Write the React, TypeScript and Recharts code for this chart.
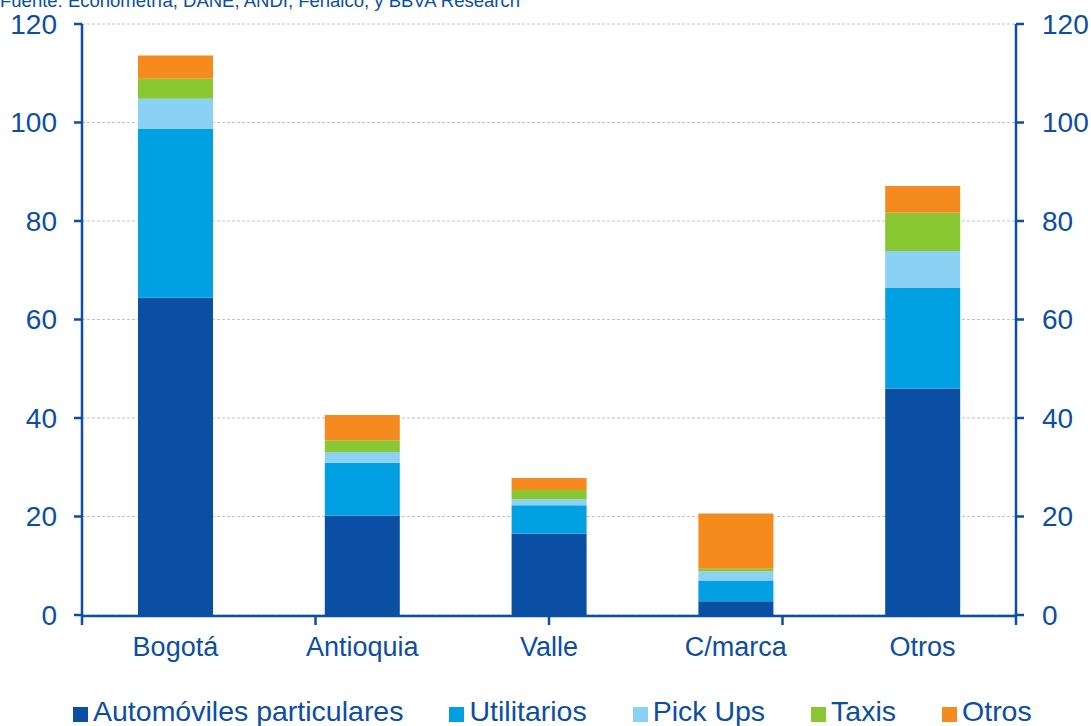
import React from "react";
import {
  BarChart,
  Bar,
  XAxis,
  YAxis,
  CartesianGrid,
  Legend,
} from "recharts";

const categories = ["Bogotá", "Antioquia", "Valle", "C/marca", "Otros"];
const automoviles = [64.4, 20.2, 16.5, 2.8, 46.0];
const utilitarios = [34.3, 10.7, 5.8, 4.2, 20.4];
const pickUps = [6.1, 2.2, 1.2, 1.9, 7.5];
const taxis = [4.1, 2.4, 1.9, 0.5, 7.8];
const otros = [4.7, 5.1, 2.4, 11.2, 5.4];
const yTicks = [0, 20, 40, 60, 80, 100, 120];
const boundaryTicks = [0, 1, 2, 3, 4, 5];

const BLUE = "#0B4EA2";
const FONT = "'Liberation Sans', Arial, sans-serif";

const series = [
  { key: "automoviles", name: "Automóviles particulares", color: "#0A4FA3" },
  { key: "utilitarios", name: "Utilitarios", color: "#00A0E3" },
  { key: "pickUps", name: "Pick Ups", color: "#8AD1F3" },
  { key: "taxis", name: "Taxis", color: "#89C733" },
  { key: "otros", name: "Otros", color: "#F58A1F" },
];

const data = categories.map((c, i) => ({
  category: c,
  automoviles: automoviles[i],
  utilitarios: utilitarios[i],
  pickUps: pickUps[i],
  taxis: taxis[i],
  otros: otros[i],
}));

function LegendContent() {
  return (
    <div
      style={{
        display: "flex",
        paddingLeft: 73,
        fontFamily: FONT,
        fontSize: 28.5,
        lineHeight: "32px",
        color: BLUE,
        whiteSpace: "nowrap",
      }}
    >
      {series.map((s) => (
        <div
          key={s.key}
          style={{ display: "flex", alignItems: "center", marginRight: 46 }}
        >
          <span
            style={{
              display: "inline-block",
              width: 15,
              height: 15,
              background: s.color,
              marginRight: 5,
              marginTop: 6,
            }}
          />
          <span>{s.name}</span>
        </div>
      ))}
    </div>
  );
}

export default function App() {
  const tickStyle = { fontSize: 28, fill: BLUE, fontFamily: FONT };
  return (
    <div
      style={{
        position: "absolute",
        left: 0,
        top: 0,
        width: 1091,
        height: 726,
        overflow: "hidden",
        background: "#fff",
      }}
    >
      <div
        style={{
          position: "absolute",
          left: 0,
          top: -10,
          fontFamily: FONT,
          fontSize: 18.5,
          color: BLUE,
          whiteSpace: "nowrap",
        }}
      >
        Fuente: Econometría, DANE, ANDI, Fenalco, y BBVA Research
      </div>
      <BarChart
        width={1091}
        height={726}
        data={data}
        margin={{ top: 24, right: 0, left: 0, bottom: 52 }}
        barSize={75}
      >
        <CartesianGrid
          xAxisId="cat"
          vertical={false}
          stroke="#C4C4C4"
          strokeDasharray="3 2"
        />
        <XAxis
          xAxisId="bounds"
          type="number"
          domain={[0, 5]}
          ticks={boundaryTicks}
          allowDataOverflow
          height={1}
          axisLine={false}
          tickFormatter={() => ""}
          tickSize={10}
          tickLine={{ stroke: BLUE, strokeWidth: 2.5 }}
        />
        <XAxis
          xAxisId="cat"
          dataKey="category"
          height={58}
          tickLine={false}
          tickSize={0}
          tickMargin={21}
          axisLine={{ stroke: BLUE, strokeWidth: 2.5 }}
          tick={{ fontSize: 27, fill: BLUE, fontFamily: FONT }}
        />
        <YAxis
          width={82}
          domain={[0, 120]}
          ticks={yTicks}
          allowDataOverflow
          tickSize={8}
          tickMargin={17}
          axisLine={{ stroke: BLUE, strokeWidth: 2.5 }}
          tickLine={{ stroke: BLUE, strokeWidth: 2.5 }}
          tick={tickStyle}
        />
        <YAxis
          yAxisId="right"
          orientation="right"
          width={75}
          domain={[0, 120]}
          ticks={yTicks}
          allowDataOverflow
          tickSize={8}
          tickMargin={18}
          axisLine={{ stroke: BLUE, strokeWidth: 2.5 }}
          tickLine={{ stroke: BLUE, strokeWidth: 2.5 }}
          tick={tickStyle}
        />
        {series.map((s) => (
          <Bar
            key={s.key}
            xAxisId="cat"
            dataKey={s.key}
            name={s.name}
            stackId="a"
            fill={s.color}
            isAnimationActive={false}
          />
        ))}
        <Legend
          layout="horizontal"
          verticalAlign="middle"
          align="center"
          wrapperStyle={{ top: 695, left: 0, width: 1091 }}
          content={<LegendContent />}
        />
      </BarChart>
    </div>
  );
}
